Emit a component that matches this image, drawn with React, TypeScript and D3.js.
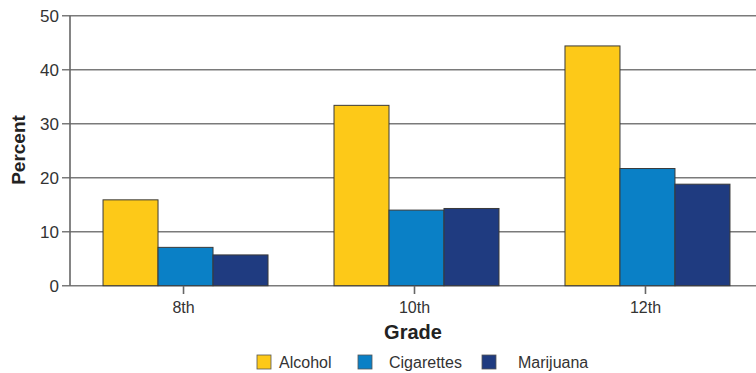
import React from "react";
import * as d3 from "d3";

const grades = ["8th", "10th", "12th"];
const substances = ["Alcohol", "Cigarettes", "Marijuana"];
const alcohol = [15.9, 33.4, 44.4];
const cigarettes = [7.1, 14.0, 21.7];
const marijuana = [5.7, 14.3, 18.8];
const yTicks = [0, 10, 20, 30, 40, 50];
const colors = ["#FDC918", "#0A80C6", "#1F3B80"];

const W = 756;
const H = 373;
const FONT = "'Liberation Sans', Arial, sans-serif";

export default function App() {
  const series = [alcohol, cigarettes, marijuana];
  const y = d3.scaleLinear().domain([0, 50]).range([285.7, 15.7]);
  const x = d3
    .scaleBand<string>()
    .domain(grades)
    .range([70, 763])
    .paddingInner(0.2857)
    .paddingOuter(0.143);
  const inner = d3
    .scaleBand<string>()
    .domain(substances)
    .range([0, x.bandwidth()]);

  const legendPos = [
    { sx: 257, tx: 279 },
    { sx: 358, tx: 389 },
    { sx: 482, tx: 518 },
  ];

  return (
    <svg
      width={W}
      height={H}
      style={{ position: "absolute", left: 0, top: 0, background: "#fff" }}
      fontFamily={FONT}
    >
      {/* horizontal gridlines and y ticks */}
      {yTicks.map((t) => (
        <g key={t}>
          <line
            x1={62}
            x2={W}
            y1={y(t)}
            y2={y(t)}
            stroke="#7a7a7a"
            strokeWidth={1.6}
          />
          <text
            x={59}
            y={y(t)}
            dy="0.36em"
            textAnchor="end"
            fontSize={17}
            fill="#333"
          >
            {t}
          </text>
        </g>
      ))}
      {/* y axis line */}
      <line x1={70} x2={70} y1={y(50)} y2={y(0)} stroke="#666" strokeWidth={1.6} />

      {/* bars */}
      {grades.map((g, gi) => (
        <g key={g} transform={`translate(${x(g)},0)`}>
          {series.map((s, si) => (
            <rect
              key={si}
              x={inner(substances[si])}
              y={y(s[gi])}
              width={inner.bandwidth()}
              height={y(0) - y(s[gi])}
              fill={colors[si]}
              stroke="#3a3a3a"
              strokeWidth={1}
            />
          ))}
        </g>
      ))}

      {/* x ticks and labels */}
      {grades.map((g) => {
        const cx = (x(g) as number) + x.bandwidth() / 2 - 2;
        return (
          <g key={g}>
            <line x1={cx} x2={cx} y1={y(0)} y2={294} stroke="#666" strokeWidth={1.6} />
            <text x={cx} y={313} textAnchor="middle" fontSize={16} fill="#333">
              {g}
            </text>
          </g>
        );
      })}

      {/* axis titles */}
      <text
        x={413}
        y={339}
        textAnchor="middle"
        fontSize={20}
        fontWeight="bold"
        fill="#222"
      >
        Grade
      </text>
      <text
        transform="translate(25,150) rotate(-90)"
        textAnchor="middle"
        fontSize={19}
        fontWeight="bold"
        fill="#222"
      >
        Percent
      </text>

      {/* legend */}
      {substances.map((name, i) => (
        <g key={name}>
          <rect
            x={legendPos[i].sx}
            y={355}
            width={14}
            height={14}
            fill={colors[i]}
            stroke="#555"
            strokeWidth={0.8}
          />
          <text x={legendPos[i].tx} y={368} fontSize={16} fill="#333">
            {name}
          </text>
        </g>
      ))}
    </svg>
  );
}
